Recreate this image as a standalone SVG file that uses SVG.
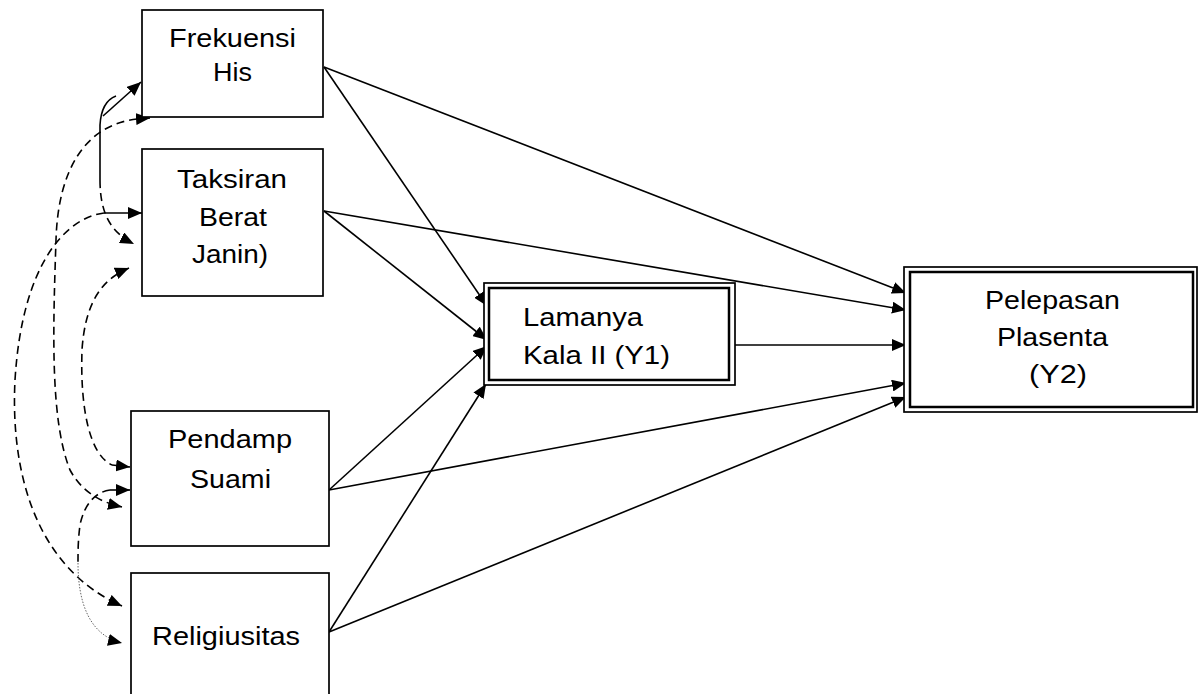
<svg xmlns="http://www.w3.org/2000/svg" width="1199" height="694" viewBox="0 0 1199 694">
<style>
.box{fill:#fff;stroke:#000;stroke-width:1.7}
.dbo{fill:none;stroke:#000;stroke-width:2.5}
.t{font-family:"Liberation Sans",Arial,sans-serif;font-size:26px;fill:#000}
.c{fill:none;stroke:#000;stroke-width:1.6}
.d{fill:none;stroke:#000;stroke-width:1.6;stroke-dasharray:8 5}
.dot{fill:none;stroke:#555;stroke-width:0.9;stroke-dasharray:1.5 1.5}
</style>
<defs>
<marker id="ah" viewBox="0 0 14 12" refX="14" refY="6" markerWidth="14" markerHeight="12" markerUnits="userSpaceOnUse" orient="auto-start-reverse">
<path d="M0,0 L14,6 L0,12 z" fill="#000"/>
</marker>
</defs>
<rect width="1199" height="694" fill="#fff"/>
<g id="connectors">
<path class="c" d="M324,67 L487,306" marker-end="url(#ah)"/>
<path class="c" d="M324,67 L906,293" marker-end="url(#ah)"/>
<path class="c" d="M324,211 L487,340" marker-end="url(#ah)"/>
<path class="c" d="M324,211 L906,310" marker-end="url(#ah)"/>
<path class="c" d="M735,345 L906,345" marker-end="url(#ah)"/>
<path class="c" d="M329,490 L487,346" marker-end="url(#ah)"/>
<path class="c" d="M329,490 L906,383" marker-end="url(#ah)"/>
<path class="c" d="M329,632 L486,384" marker-end="url(#ah)"/>
<path class="c" d="M329,632 L906,397" marker-end="url(#ah)"/>
<path class="c" d="M103,116 L141,82" marker-end="url(#ah)"/>
<path class="c" d="M116,96 C108,99 101,108 100,125 L100,180"/>
<path class="d" d="M100,180 C100,215 112,233 134,244" marker-end="url(#ah)"/>
<path class="d" d="M150,118 L137,119 C85,125 58,170 56,240 C53,330 50,420 70,470 C82,492 100,502 122,507" marker-start="url(#ah)" marker-end="url(#ah)"/>
<path class="c" d="M142,213 L104,213" marker-start="url(#ah)"/>
<path class="d" d="M104,213 C65,218 22,265 15,380 C10,480 40,570 122,606" marker-end="url(#ah)"/>
<path class="d" d="M129,268 C100,280 85,305 82,350 C80,410 90,455 112,465" marker-start="url(#ah)"/>
<path class="c" d="M112,465 L130,467" marker-end="url(#ah)"/>
<path class="c" d="M130,490 L110,490" marker-start="url(#ah)"/>
<path class="d" d="M110,490 C95,492 84,505 80,525 C78,540 78,552 78,563"/>
<path class="dot" d="M78,563 C78,600 88,635 122,643" marker-end="url(#ah)"/>
</g>
<g id="frekuensi">
<rect class="box" x="142" y="10" width="181" height="107"/>
<text class="t" x="169" y="47" textLength="127" lengthAdjust="spacingAndGlyphs">Frekuensi</text>
<text class="t" x="213" y="81" textLength="39" lengthAdjust="spacingAndGlyphs">His</text>
</g>
<g id="taksiran">
<rect class="box" x="142" y="149" width="181" height="147"/>
<text class="t" x="177" y="188" textLength="110" lengthAdjust="spacingAndGlyphs">Taksiran</text>
<text class="t" x="199" y="226" textLength="68" lengthAdjust="spacingAndGlyphs">Berat</text>
<text class="t" x="192" y="263" textLength="76" lengthAdjust="spacingAndGlyphs">Janin)</text>
</g>
<g id="pendamp">
<rect class="box" x="131" y="411" width="198" height="135"/>
<text class="t" x="168" y="448" textLength="124" lengthAdjust="spacingAndGlyphs">Pendamp</text>
<text class="t" x="190" y="488" textLength="81" lengthAdjust="spacingAndGlyphs">Suami</text>
</g>
<g id="religiusitas">
<rect class="box" x="131" y="573" width="198" height="130"/>
<text class="t" x="152" y="645" textLength="148" lengthAdjust="spacingAndGlyphs">Religiusitas</text>
</g>
<g id="lamanya">
<rect class="box" x="484" y="283" width="251" height="102"/>
<rect class="dbo" x="489" y="288" width="240" height="92"/>
<text class="t" x="523" y="326" textLength="120" lengthAdjust="spacingAndGlyphs">Lamanya</text>
<text class="t" x="523" y="364" textLength="147" lengthAdjust="spacingAndGlyphs">Kala II (Y1)</text>
</g>
<g id="pelepasan">
<rect class="box" x="904" y="267" width="293" height="145"/>
<rect class="dbo" x="910" y="272" width="283" height="135"/>
<text class="t" x="985" y="309" textLength="135" lengthAdjust="spacingAndGlyphs">Pelepasan</text>
<text class="t" x="997" y="346" textLength="111" lengthAdjust="spacingAndGlyphs">Plasenta</text>
<text class="t" x="1029" y="383" textLength="58" lengthAdjust="spacingAndGlyphs">(Y2)</text>
</g>
</svg>
